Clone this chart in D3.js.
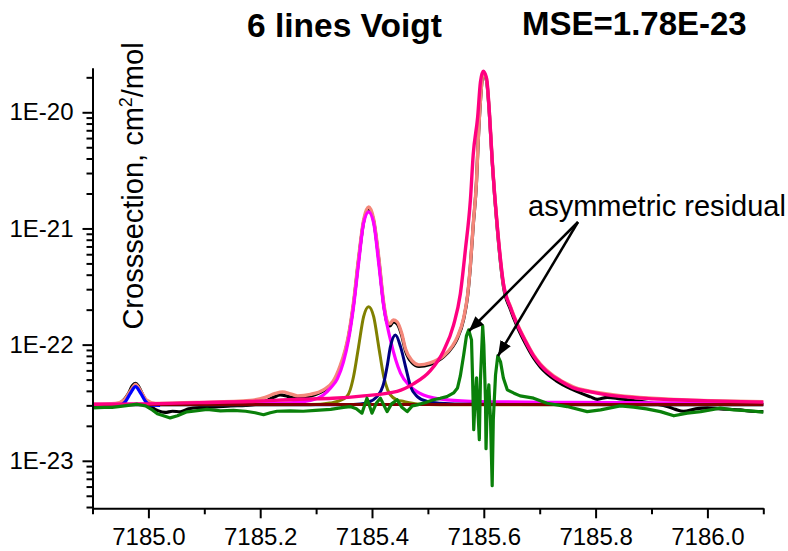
<!DOCTYPE html>
<html>
<head>
<meta charset="utf-8">
<script src="https://cdn.jsdelivr.net/npm/d3@7"></script>
<style>
  body { margin: 0; background: #fff; }
  svg { display: block; font-family: "Liberation Sans", Arial, sans-serif; }
</style>
</head>
<body>
<svg width="788" height="551"></svg>
<script>
// wavenumber (cm-1) / cross-section (cm2/mol) pairs
const measured = [[7184.90,2.97e-23],[7184.921,3.00e-23],[7184.941,3.03e-23],[7184.953,3.22e-23],[7184.964,3.77e-23],[7184.971,4.41e-23],[7184.977,4.64e-23],[7184.982,4.41e-23],[7184.989,3.77e-23],[7184.996,3.28e-23],[7185.007,2.88e-23],[7185.018,2.69e-23],[7185.030,2.61e-23],[7185.043,2.67e-23],[7185.057,2.64e-23],[7185.072,2.80e-23],[7185.093,2.88e-23],[7185.120,2.91e-23],[7185.147,2.97e-23],[7185.174,3.00e-23],[7185.191,3.06e-23],[7185.209,3.25e-23],[7185.224,3.52e-23],[7185.236,3.69e-23],[7185.249,3.59e-23],[7185.263,3.48e-23],[7185.281,3.55e-23],[7185.299,3.73e-23],[7185.313,4.00e-23],[7185.331,4.73e-23],[7185.343,6.31e-23],[7185.352,8.65e-23],[7185.358,1.17e-22],[7185.367,2.24e-22],[7185.376,5.35e-22],[7185.385,1.14e-21],[7185.394,1.47e-21],[7185.403,1.16e-21],[7185.412,5.46e-22],[7185.421,2.19e-22],[7185.427,1.54e-22],[7185.432,1.45e-22],[7185.438,1.57e-22],[7185.445,1.51e-22],[7185.453,1.21e-22],[7185.460,8.83e-23],[7185.472,6.96e-23],[7185.484,6.49e-23],[7185.504,6.76e-23],[7185.528,7.84e-23],[7185.544,9.55e-23],[7185.553,1.14e-22],[7185.564,1.66e-22],[7185.571,2.62e-22],[7185.576,4.75e-22],[7185.581,1.05e-21],[7185.587,2.56e-21],[7185.590,5.64e-21],[7185.594,1.25e-20],[7185.599,2.17e-20],[7185.605,1.85e-20],[7185.610,9.63e-21],[7185.615,3.80e-21],[7185.624,1.01e-21],[7185.635,3.20e-22],[7185.648,1.99e-22],[7185.660,1.42e-22],[7185.674,1.03e-22],[7185.689,7.68e-23],[7185.701,6.43e-23],[7185.730,4.87e-23],[7185.760,4.08e-23],[7185.791,3.55e-23],[7185.803,3.38e-23],[7185.821,3.52e-23],[7185.844,3.41e-23],[7185.880,3.25e-23],[7185.907,3.09e-23],[7185.928,2.94e-23],[7185.943,2.77e-23],[7185.957,2.67e-23],[7185.979,2.80e-23],[7186.000,2.86e-23],[7186.023,2.80e-23],[7186.059,2.74e-23],[7186.077,2.67e-23],[7186.100,2.65e-23]];

const totalFit = [[7184.90,3.09e-23],[7184.941,3.12e-23],[7184.957,3.35e-23],[7184.968,4.00e-23],[7184.977,4.55e-23],[7184.986,4.00e-23],[7184.996,3.35e-23],[7185.013,3.12e-23],[7185.093,3.18e-23],[7185.182,3.31e-23],[7185.209,3.52e-23],[7185.227,3.80e-23],[7185.240,3.92e-23],[7185.254,3.77e-23],[7185.267,3.62e-23],[7185.290,3.73e-23],[7185.313,4.08e-23],[7185.331,4.87e-23],[7185.343,6.56e-23],[7185.352,9.00e-23],[7185.358,1.21e-22],[7185.367,2.33e-22],[7185.376,5.57e-22],[7185.385,1.18e-21],[7185.394,1.53e-21],[7185.403,1.20e-21],[7185.412,5.69e-22],[7185.421,2.28e-22],[7185.427,1.60e-22],[7185.432,1.51e-22],[7185.438,1.63e-22],[7185.445,1.57e-22],[7185.453,1.26e-22],[7185.460,9.18e-23],[7185.472,7.24e-23],[7185.484,6.69e-23],[7185.504,6.96e-23],[7185.528,8.00e-23],[7185.544,9.74e-23],[7185.553,1.17e-22],[7185.564,1.70e-22],[7185.571,2.68e-22],[7185.576,4.84e-22],[7185.581,1.07e-21],[7185.587,2.61e-21],[7185.590,5.76e-21],[7185.594,1.27e-20],[7185.599,2.21e-20],[7185.605,1.89e-20],[7185.610,9.82e-21],[7185.615,3.87e-21],[7185.624,1.05e-21],[7185.635,3.33e-22],[7185.648,2.11e-22],[7185.660,1.51e-22],[7185.674,1.10e-22],[7185.689,8.15e-23],[7185.701,6.83e-23],[7185.725,5.38e-23],[7185.760,4.33e-23],[7185.821,3.77e-23],[7185.940,3.38e-23],[7186.10,3.23e-23]];

const line1 = [[7184.932,3.03e-23],[7184.950,3.03e-23],[7184.959,3.24e-23],[7184.968,3.82e-23],[7184.977,4.35e-23],[7184.986,3.82e-23],[7184.995,3.24e-23],[7185.004,3.03e-23],[7185.021,3.00e-23]];

const line2 = [[7184.90,3.06e-23],[7185.093,3.09e-23],[7185.254,3.15e-23],[7185.290,3.31e-23],[7185.313,3.69e-23],[7185.326,4.24e-23],[7185.338,5.07e-23],[7185.349,7.10e-23],[7185.358,1.10e-22],[7185.367,2.12e-22],[7185.376,5.01e-22],[7185.385,1.11e-21],[7185.394,1.39e-21],[7185.403,1.11e-21],[7185.412,5.01e-22],[7185.421,2.12e-22],[7185.433,1.10e-22],[7185.451,5.68e-23],[7185.469,4.35e-23],[7185.492,3.69e-23],[7185.534,3.35e-23],[7185.594,3.24e-23],[7185.755,3.18e-23],[7186.10,3.12e-23]];

const line3 = [[7184.90,3.03e-23],[7185.272,3.03e-23],[7185.308,3.06e-23],[7185.326,3.15e-23],[7185.338,3.24e-23],[7185.355,3.57e-23],[7185.361,4.08e-23],[7185.367,5.31e-23],[7185.376,9.61e-23],[7185.385,1.74e-22],[7185.394,2.12e-22],[7185.403,1.74e-22],[7185.412,9.61e-23],[7185.421,5.31e-23],[7185.428,4.08e-23],[7185.433,3.69e-23],[7185.444,3.35e-23],[7185.457,3.24e-23],[7185.481,3.09e-23],[7185.522,3.03e-23],[7186.10,3.03e-23]];

const line4 = [[7184.90,3.03e-23],[7185.343,3.03e-23],[7185.379,3.09e-23],[7185.391,3.17e-23],[7185.409,3.57e-23],[7185.421,4.66e-23],[7185.427,6.47e-23],[7185.433,9.61e-23],[7185.442,1.21e-22],[7185.451,9.61e-23],[7185.460,6.47e-23],[7185.469,4.35e-23],[7185.481,3.57e-23],[7185.499,3.24e-23],[7185.522,3.13e-23],[7185.576,3.06e-23],[7186.10,3.03e-23]];

const line5 = [[7184.90,3.06e-23],[7185.00,3.09e-23],[7185.09,3.17e-23],[7185.18,3.24e-23],[7185.27,3.39e-23],[7185.33,3.45e-23],[7185.385,3.62e-23],[7185.445,3.96e-23],[7185.474,4.59e-23],[7185.504,5.94e-23],[7185.528,8.83e-23],[7185.546,1.48e-22],[7185.558,2.73e-22],[7185.567,6.52e-22],[7185.576,1.75e-21],[7185.581,4.28e-21],[7185.589,9.08e-21],[7185.594,1.82e-20],[7185.599,2.26e-20],[7185.605,1.96e-20],[7185.610,1.00e-20],[7185.615,3.87e-21],[7185.624,1.07e-21],[7185.635,3.39e-22],[7185.648,2.07e-22],[7185.660,1.48e-22],[7185.674,1.08e-22],[7185.689,8.00e-23],[7185.701,6.69e-23],[7185.725,5.28e-23],[7185.737,4.87e-23],[7185.760,4.24e-23],[7185.791,3.92e-23],[7185.821,3.69e-23],[7185.880,3.46e-23],[7185.940,3.35e-23],[7186.00,3.28e-23],[7186.10,3.20e-23]];

const baseline = [[7184.90,3.05e-23],[7186.10,3.05e-23]];

const residual = [[7184.90,2.86e-23],[7184.921,2.88e-23],[7184.935,2.88e-23],[7184.950,2.94e-23],[7184.964,3.00e-23],[7184.980,3.07e-23],[7184.995,2.97e-23],[7185.007,2.74e-23],[7185.016,2.54e-23],[7185.027,2.44e-23],[7185.039,2.34e-23],[7185.052,2.44e-23],[7185.069,2.64e-23],[7185.084,2.69e-23],[7185.105,2.77e-23],[7185.129,2.69e-23],[7185.152,2.72e-23],[7185.174,2.67e-23],[7185.191,2.59e-23],[7185.206,2.49e-23],[7185.218,2.59e-23],[7185.230,2.67e-23],[7185.254,2.69e-23],[7185.277,2.67e-23],[7185.299,2.72e-23],[7185.326,2.77e-23],[7185.349,2.88e-23],[7185.361,2.93e-23],[7185.372,2.80e-23],[7185.382,2.57e-23],[7185.391,3.46e-23],[7185.400,2.57e-23],[7185.408,3.15e-23],[7185.415,3.46e-23],[7185.427,2.65e-23],[7185.435,3.09e-23],[7185.445,3.35e-23],[7185.453,2.91e-23],[7185.463,2.65e-23],[7185.472,2.97e-23],[7185.481,3.03e-23],[7185.496,3.18e-23],[7185.510,3.35e-23],[7185.522,3.45e-23],[7185.534,3.57e-23],[7185.546,3.84e-23],[7185.553,4.24e-23],[7185.558,5.38e-23],[7185.564,8.15e-23],[7185.569,1.19e-22],[7185.573,1.34e-22],[7185.578,1.10e-22],[7185.580,4.97e-23],[7185.582,1.85e-23],[7185.584,3.03e-23],[7185.587,5.17e-23],[7185.589,3.03e-23],[7185.592,1.52e-23],[7185.594,4.97e-23],[7185.598,1.45e-22],[7185.600,1.00e-22],[7185.603,3.35e-23],[7185.604,1.27e-23],[7185.606,2.91e-23],[7185.609,4.50e-23],[7185.612,2.25e-23],[7185.615,6.10e-24],[7185.617,2.25e-23],[7185.621,5.49e-23],[7185.625,8.00e-23],[7185.630,7.10e-23],[7185.635,5.17e-23],[7185.642,4.08e-23],[7185.654,3.82e-23],[7185.665,3.62e-23],[7185.689,3.46e-23],[7185.713,3.13e-23],[7185.749,2.93e-23],[7185.785,2.65e-23],[7185.809,2.74e-23],[7185.844,2.97e-23],[7185.868,2.90e-23],[7185.891,2.80e-23],[7185.916,2.65e-23],[7185.940,2.44e-23],[7185.964,2.57e-23],[7185.988,2.65e-23],[7186.023,2.84e-23],[7186.047,2.74e-23],[7186.077,2.69e-23],[7186.100,2.62e-23]];

const xMajor = [7185.0, 7185.2, 7185.4, 7185.6, 7185.8, 7186.0];
const xMinor = [7184.9, 7185.1, 7185.3, 7185.5, 7185.7, 7185.9, 7186.1];
const yMajor = [1e-23, 1e-22, 1e-21, 1e-20];
const yLabels = ["1E-23", "1E-22", "1E-21", "1E-20"];

const svg = d3.select("svg");

const xScale = d3.scaleLinear().domain([7184.9, 7186.1]).range([92.5, 763.3]);
const yScale = d3.scaleLog().domain([3.9e-24, 2.42e-20]).range([508.3, 67.7]);

const line = d3.line().x(d => xScale(d[0])).y(d => yScale(d[1]));
const smooth = d3.line().x(d => xScale(d[0])).y(d => yScale(d[1])).curve(d3.curveMonotoneX);

const series = [
    { data: measured, color: "#000000", w: 3.2, gen: smooth },
    { data: totalFit, color: "#f4877a", w: 3.4, gen: smooth },
    { data: line2, color: "#ff00ff", w: 3.2, gen: smooth },
    { data: line3, color: "#808000", w: 3, gen: smooth },
    { data: line4, color: "#000080", w: 3, gen: smooth },
    { data: line1, color: "#0000ff", w: 3.2, gen: smooth },
    { data: baseline, color: "#800000", w: 3, gen: line },
    { data: line5, color: "#ff0080", w: 3.4, gen: smooth },
    { data: residual, color: "#0a800a", w: 3.2, gen: line }
];

const plot = svg.append("g");
series.forEach(s => {
    plot.append("path")
        .attr("d", s.gen(s.data))
        .attr("fill", "none")
        .attr("stroke", s.color)
        .attr("stroke-width", s.w)
        .attr("stroke-linejoin", "round");
});

// x axis
const xAxisG = svg.append("g")
    .attr("transform", "translate(0,508.3)")
    .call(d3.axisBottom(xScale).tickValues(xMajor).tickFormat(d3.format(".1f")).tickSize(10).tickSizeOuter(0));
xAxisG.select(".domain").attr("stroke-width", 2);
xAxisG.selectAll(".tick line").attr("stroke-width", 2);
xAxisG.selectAll(".tick text")
    .attr("font-family", "Liberation Sans, Arial, sans-serif")
    .attr("font-size", 24).attr("y", 20).attr("dy", "0.71em");
svg.append("g")
    .attr("transform", "translate(0,508.3)")
    .call(d3.axisBottom(xScale).tickValues(xMinor).tickFormat("").tickSize(6).tickSizeOuter(0))
    .call(g => g.select(".domain").remove())
    .selectAll(".tick line").attr("stroke-width", 2);

// y axis
const yMinor = [];
[1e-24, 1e-23, 1e-22, 1e-21, 1e-20].forEach(p => {
    for (let k = 2; k <= 9; k++) {
        const v = k * p;
        if (v >= 3.9e-24 && v <= 2.42e-20) yMinor.push(v);
    }
});
const yAxisG = svg.append("g")
    .attr("transform", "translate(92.5,0)")
    .call(d3.axisLeft(yScale).tickValues(yMajor).tickFormat((d, i) => yLabels[i]).tickSize(10).tickSizeOuter(0));
yAxisG.select(".domain").attr("stroke-width", 2);
yAxisG.selectAll(".tick line").attr("stroke-width", 2);
yAxisG.selectAll(".tick text")
    .attr("font-family", "Liberation Sans, Arial, sans-serif")
    .attr("font-size", 24).attr("x", -19);
svg.append("g")
    .attr("transform", "translate(92.5,0)")
    .call(d3.axisLeft(yScale).tickValues(yMinor).tickFormat("").tickSize(6).tickSizeOuter(0))
    .call(g => g.select(".domain").remove())
    .selectAll(".tick line").attr("stroke-width", 2);

// titles
svg.append("text").attr("x", 247).attr("y", 37)
    .attr("font-size", 33.5).attr("font-weight", "bold").text("6 lines Voigt");
svg.append("text").attr("x", 522).attr("y", 35)
    .attr("font-size", 33).attr("font-weight", "bold").text("MSE=1.78E-23");

const yTitle = svg.append("text")
    .attr("transform", "translate(143,186) rotate(-90)")
    .attr("text-anchor", "middle")
    .attr("font-size", 29);
yTitle.append("tspan").text("Crosssection, cm");
yTitle.append("tspan").attr("font-size", 18).attr("dy", -11).text("2");
yTitle.append("tspan").attr("dy", 11).text("/mol");

// annotation
svg.append("defs").append("marker")
    .attr("id", "head")
    .attr("markerUnits", "userSpaceOnUse")
    .attr("markerWidth", 16).attr("markerHeight", 12)
    .attr("refX", 15).attr("refY", 6)
    .attr("orient", "auto")
    .append("path").attr("d", "M0,0L15,6L0,12Z").attr("fill", "#000");

svg.append("text").attr("x", 528).attr("y", 216)
    .attr("font-size", 29).text("asymmetric residual");

const arrowFrom = [578, 222];
[[469, 331], [498, 356]].forEach(t => {
    svg.append("line")
        .attr("x1", arrowFrom[0]).attr("y1", arrowFrom[1])
        .attr("x2", t[0]).attr("y2", t[1])
        .attr("stroke", "#000").attr("stroke-width", 2.5)
        .attr("marker-end", "url(#head)");
});
</script>
</body>
</html>
